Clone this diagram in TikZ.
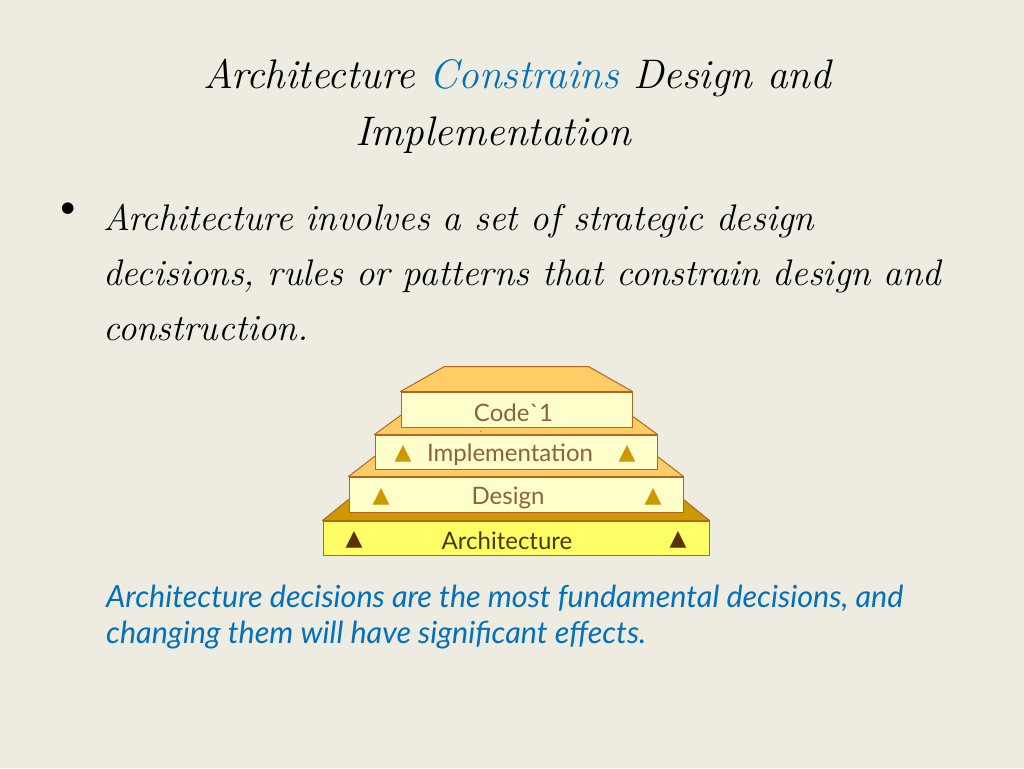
\documentclass[tikz,border=0pt]{standalone}
\usepackage{fontspec}
\newfontfamily\latofont{Lato}
\newfontfamily\symfont{DejaVu Sans}
\definecolor{bgtan}{HTML}{EEECE1}
\definecolor{layeredge}{HTML}{B5651D}
\definecolor{layerfront}{HTML}{FFFFCC}
\definecolor{layertop}{HTML}{FFCC66}
\definecolor{archfront}{HTML}{FFFF66}
\definecolor{archtop}{HTML}{CC9900}
\definecolor{labeltext}{HTML}{8C6239}
\definecolor{archtext}{HTML}{4F3500}
\definecolor{trigold}{HTML}{CC9900}
\definecolor{tridark}{HTML}{5C3000}
\definecolor{noteblue}{HTML}{0070C0}
\tikzset{
  layer/.style={draw=layeredge, fill=layerfront, line width=1pt, inner sep=0pt, minimum height=35pt},
  topface/.style={draw=layeredge, fill=layertop, line width=1pt, line join=round},
  layerlabel/.style={font=\latofont\fontsize{24}{24}\selectfont, text=labeltext, inner sep=0pt, yshift=-3pt},
  tri/.style={font=\symfont\fontsize{22}{22}\selectfont, text=trigold, inner sep=0pt, yshift=-2pt},
  slidetext/.style={font=\itshape\fontsize{37}{37}\selectfont, inner sep=0pt, anchor=base west},
  notetext/.style={slidetext, font=\latofont\itshape\fontsize{30.5}{30.5}\selectfont, text=noteblue},
}
\begin{document}
\begin{tikzpicture}[x=1pt,y=-1pt]
    \useasboundingbox (0,0) rectangle (1024,768);
    \fill[bgtan] (0,0) rectangle (1024,768);
    %TITULO:
    \node[slidetext, font=\itshape\fontsize{41.3}{41.3}\selectfont] (title1) at (203,88) {Architecture \textcolor{noteblue}{Constrains} Design and};
    \node[slidetext, font=\itshape\fontsize{41.3}{41.3}\selectfont] (title2) at (355,145) {Implementation};
    %VINETA:
    \node[font=\fontsize{52}{52}\selectfont, inner sep=0pt] (bullet) at (68,213) {\textbullet};
    \node[slidetext] (line1) at (103,230) {Architecture involves a set of strategic design};
    \node[slidetext] (line2) at (103,285) {decisions, rules or patterns that constrain design and};
    \node[slidetext] (line3) at (103,340) {construction.};
    %ARQUITECTURA:
    \node[layer, fill=archfront, minimum width=386pt, minimum height=34pt] (arch) at (516,538) {};
    \draw[topface, fill=archtop] (arch.north west) -- ([shift={(26,-21)}]arch.north west) -- ([shift={(-26,-21)}]arch.north east) -- (arch.north east) -- cycle;
    \node[layerlabel, text=archtext] (archlabel) at ([xshift=-9pt]arch.center) {Architecture};
    \node[tri, text=tridark] (archtri1) at ([xshift=-162pt]arch.center) {▲};
    \node[tri, text=tridark] (archtri2) at ([xshift=162pt]arch.center) {▲};
    %DISENO:
    \node[layer, minimum width=334pt] (design) at (516,494.5) {};
    \draw[topface] (design.north west) -- ([shift={(26,-20)}]design.north west) -- ([shift={(-26,-20)}]design.north east) -- (design.north east) -- cycle;
    \node[layerlabel] (designlabel) at ([xshift=-8pt]design.center) {Design};
    \node[tri] (designtri1) at ([xshift=-135pt]design.center) {▲};
    \node[tri] (designtri2) at ([xshift=137pt]design.center) {▲};
    %IMPLEMENTACION:
    \node[layer, minimum width=282pt, minimum height=34pt] (impl) at (516,452) {};
    \draw[topface] (impl.north west) -- ([shift={(26,-19)}]impl.north west) -- ([shift={(-26,-19)}]impl.north east) -- (impl.north east) -- cycle;
    \node[layerlabel] (impllabel) at ([xshift=-6pt]impl.center) {Implementation};
    \node[tri] (impltri1) at ([xshift=-113pt]impl.center) {▲};
    \node[tri] (impltri2) at ([xshift=111pt]impl.center) {▲};
    %CODIGO:
    \node[layer, minimum width=231pt] (code) at (516.5,409.5) {};
    \draw[topface] (code.north west) -- ([shift={(44,-25)}]code.north west) -- ([shift={(-44,-25)}]code.north east) -- (code.north east) -- cycle;
    \node[layerlabel] (codelabel) at ([xshift=-3pt]code.center) {Code`1};
    \node[layerlabel, font=\latofont\fontsize{10}{10}\selectfont, yshift=3pt] (codetick) at (481,435) {`};
    %NOTA:
    \node[notetext] (note1) at (106,607) {Architecture decisions are the most fundamental decisions, and};
    \node[notetext] (note2) at (106,643) {changing them will have significant effects.};
\end{tikzpicture}
\end{document}
